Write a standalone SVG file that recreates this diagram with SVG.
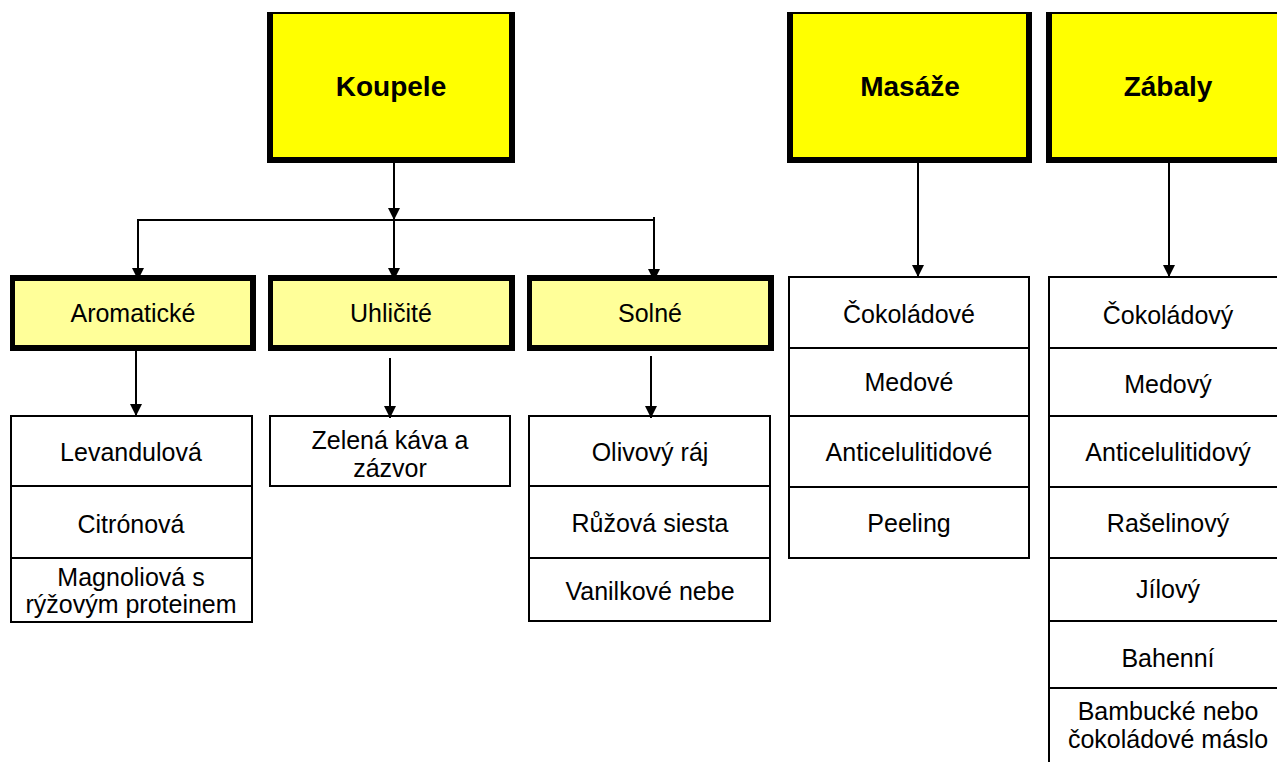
<svg xmlns="http://www.w3.org/2000/svg" width="1277" height="762" viewBox="0 0 1277 762">
<defs>
<style>
.t{font-family:"Liberation Sans",Arial,sans-serif;font-size:25px;text-anchor:middle;fill:#000}
.b{font-family:"Liberation Sans",Arial,sans-serif;font-size:28px;font-weight:bold;text-anchor:middle;fill:#000}
.blk{fill:#000}
.y1{fill:#FFFF00}
.y2{fill:#FFFF99}
.lst{fill:#fff;stroke:#000;stroke-width:2}
.sep{stroke:#000;stroke-width:2}
.c{stroke:#000;stroke-width:2;fill:none}
</style>
<marker id="ah" viewBox="0 0 12 12" refX="12" refY="6" markerWidth="12" markerHeight="13" markerUnits="userSpaceOnUse" orient="auto">
<path d="M0,0 L12,6 L0,12 z" fill="#000"/>
</marker>
</defs>
<rect width="1277" height="762" fill="#fff"/>

<g id="koupele">
<rect class="blk" x="267" y="12" width="248" height="151"/>
<rect class="y1" x="273" y="14" width="236" height="143"/>
<text class="b" x="391" y="96">Koupele</text>
</g>
<g id="masaze">
<rect class="blk" x="787" y="12" width="245" height="151"/>
<rect class="y1" x="793" y="14" width="233" height="143"/>
<text class="b" x="910" y="96">Masáže</text>
</g>
<g id="zabaly">
<rect class="blk" x="1046" y="12" width="245" height="151"/>
<rect class="y1" x="1052" y="14" width="233" height="143"/>
<text class="b" x="1168" y="96">Zábaly</text>
</g>

<g id="aromaticke">
<rect class="blk" x="10" y="275" width="246" height="76"/>
<rect class="y2" x="15" y="281" width="235" height="64"/>
<text class="t" x="133" y="322">Aromatické</text>
</g>
<g id="uhlicite">
<rect class="blk" x="268" y="275" width="247" height="76"/>
<rect class="y2" x="273" y="281" width="236" height="64"/>
<text class="t" x="391" y="322">Uhličité</text>
</g>
<g id="solne">
<rect class="blk" x="527" y="275" width="247" height="76"/>
<rect class="y2" x="532" y="281" width="236" height="64"/>
<text class="t" x="650" y="322">Solné</text>
</g>

<g id="list-aromaticke">
<rect class="lst" x="11" y="416" width="241" height="206"/>
<line class="sep" x1="11" y1="486" x2="252" y2="486"/>
<line class="sep" x1="11" y1="558" x2="252" y2="558"/>
<text class="t" x="131" y="461">Levandulová</text>
<text class="t" x="131" y="533">Citrónová</text>
<text class="t" x="131" y="586">Magnoliová s</text>
<text class="t" x="131" y="613">rýžovým proteinem</text>
</g>
<g id="list-uhlicite">
<rect class="lst" x="270" y="416" width="240" height="70"/>
<text class="t" x="390" y="449">Zelená káva a</text>
<text class="t" x="390" y="477">zázvor</text>
</g>
<g id="list-solne">
<rect class="lst" x="529" y="416" width="241" height="205"/>
<line class="sep" x1="529" y1="486" x2="770" y2="486"/>
<line class="sep" x1="529" y1="558" x2="770" y2="558"/>
<text class="t" x="650" y="461">Olivový ráj</text>
<text class="t" x="650" y="532">Růžová siesta</text>
<text class="t" x="650" y="600">Vanilkové nebe</text>
</g>
<g id="list-masaze">
<rect class="lst" x="789" y="277" width="240" height="281"/>
<line class="sep" x1="789" y1="348" x2="1029" y2="348"/>
<line class="sep" x1="789" y1="416" x2="1029" y2="416"/>
<line class="sep" x1="789" y1="487" x2="1029" y2="487"/>
<text class="t" x="909" y="323">Čokoládové</text>
<text class="t" x="909" y="391">Medové</text>
<text class="t" x="909" y="461">Anticelulitidové</text>
<text class="t" x="909" y="532">Peeling</text>
</g>
<g id="list-zabaly">
<rect class="lst" x="1049" y="277" width="240" height="500"/>
<line class="sep" x1="1049" y1="348" x2="1289" y2="348"/>
<line class="sep" x1="1049" y1="416" x2="1289" y2="416"/>
<line class="sep" x1="1049" y1="487" x2="1289" y2="487"/>
<line class="sep" x1="1049" y1="558" x2="1289" y2="558"/>
<line class="sep" x1="1049" y1="621" x2="1289" y2="621"/>
<line class="sep" x1="1049" y1="688" x2="1289" y2="688"/>
<text class="t" x="1168" y="324">Čokoládový</text>
<text class="t" x="1168" y="393">Medový</text>
<text class="t" x="1168" y="461">Anticelulitidový</text>
<text class="t" x="1168" y="532">Rašelinový</text>
<text class="t" x="1168" y="598">Jílový</text>
<text class="t" x="1168" y="667">Bahenní</text>
<text class="t" x="1168" y="720">Bambucké nebo</text>
<text class="t" x="1168" y="748">čokoládové máslo</text>
</g>

<g id="connectors">
<line class="c" x1="394" y1="163" x2="394" y2="220" marker-end="url(#ah)"/>
<line class="c" x1="137" y1="220" x2="655" y2="220"/>
<line class="c" x1="138" y1="220" x2="138" y2="280" marker-end="url(#ah)"/>
<line class="c" x1="394" y1="220" x2="394" y2="280" marker-end="url(#ah)"/>
<line class="c" x1="654" y1="217" x2="654" y2="281" marker-end="url(#ah)"/>
<line class="c" x1="918" y1="163" x2="918" y2="277" marker-end="url(#ah)"/>
<line class="c" x1="1169" y1="163" x2="1169" y2="277" marker-end="url(#ah)"/>
<line class="c" x1="136" y1="351" x2="136" y2="416" marker-end="url(#ah)"/>
<line class="c" x1="390" y1="358" x2="390" y2="418" marker-end="url(#ah)"/>
<line class="c" x1="651" y1="356" x2="651" y2="418" marker-end="url(#ah)"/>
</g>
</svg>
